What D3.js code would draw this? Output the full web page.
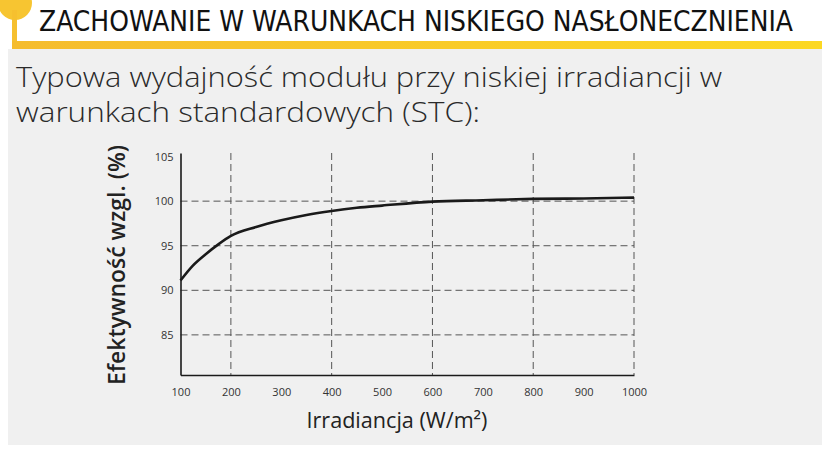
<!DOCTYPE html>
<html>
<head>
<meta charset="utf-8">
<script src="https://cdn.jsdelivr.net/npm/d3@7"></script>
<style>
  body { margin: 0; background: #fff; }
  svg { display: block; }
</style>
</head>
<body>
<div class="plot"></div>
<script>
// data
const irradiance = [100, 125, 150, 175, 200, 250, 300, 350, 400, 450, 500, 600, 700, 800, 900, 1000];
const efficiency = [91.1, 92.8, 94.05, 95.15, 96.1, 97.1, 97.85, 98.45, 98.9, 99.25, 99.5, 99.95, 100.1, 100.25, 100.3, 100.4];
const xTicks = [100, 200, 300, 400, 500, 600, 700, 800, 900, 1000];
const yTicks = [85, 90, 95, 100, 105];
const xGrid = [200, 400, 600, 800, 1000];
const yGrid = [85, 90, 95, 100];

const W = 828, H = 456;
const svg = d3.select(".plot")
    .append("svg")
        .attr("width", W)
        .attr("height", H);

// yellow gradient for header bar
const defs = svg.append("defs");
const grad = defs.append("linearGradient").attr("id", "yel");
grad.append("stop").attr("offset", "0%").attr("stop-color", "#f5bc2e");
grad.append("stop").attr("offset", "100%").attr("stop-color", "#fcd823");

// grey panel
svg.append("rect")
    .attr("x", 8).attr("y", 49)
    .attr("width", 814).attr("height", 396)
    .attr("fill", "#f0f0f0");

// header decoration
svg.append("circle")
    .attr("cx", 15).attr("cy", 3).attr("r", 17)
    .attr("fill", "#f7c531");
svg.append("rect")
    .attr("x", 12).attr("y", 10).attr("width", 5).attr("height", 36)
    .attr("fill", "#f6c02f");
svg.append("rect")
    .attr("x", 12).attr("y", 41).attr("width", 810).attr("height", 8)
    .attr("fill", "url(#yel)");

svg.append("text")
    .attr("x", 39).attr("y", 31)
    .attr("textLength", 754)
    .attr("lengthAdjust", "spacingAndGlyphs")
    .style("font-family", "'Liberation Sans Narrow', 'DejaVu Sans Condensed', 'DejaVu Sans', sans-serif")
    .style("font-size", "28px")
    .style("fill", "#111")
    .text("ZACHOWANIE W WARUNKACH NISKIEGO NASŁONECZNIENIA");

// subtitle
const sub = svg.append("g")
    .style("font-family", "'Open Sans', sans-serif")
    .style("font-weight", 300)
    .style("font-size", "27px")
    .style("fill", "#2a2a2a");
sub.append("text")
    .attr("x", 16).attr("y", 87)
    .attr("textLength", 706)
    .attr("lengthAdjust", "spacingAndGlyphs")
    .text("Typowa wydajność modułu przy niskiej irradiancji w");
sub.append("text")
    .attr("x", 16).attr("y", 122)
    .attr("textLength", 464)
    .attr("lengthAdjust", "spacingAndGlyphs")
    .text("warunkach standardowych (STC):");

// scales
const x = d3.scaleLinear().domain([100, 1000]).range([180.5, 634]);
const y = d3.scaleLinear().domain([80.5, 105.4]).range([375, 153]);

const g = svg.append("g");

// dashed grid
g.selectAll(".hgrid")
    .data(yGrid)
    .enter()
    .append("line")
        .attr("class", "hgrid")
        .attr("x1", x(100)).attr("x2", x(1000))
        .attr("y1", d => y(d)).attr("y2", d => y(d))
        .attr("stroke", "#555")
        .attr("stroke-width", 1)
        .attr("stroke-dasharray", "7,4");
g.selectAll(".vgrid")
    .data(xGrid)
    .enter()
    .append("line")
        .attr("class", "vgrid")
        .attr("x1", d => x(d)).attr("x2", d => x(d))
        .attr("y1", y(105.4)).attr("y2", y(80.5))
        .attr("stroke", "#555")
        .attr("stroke-width", 1)
        .attr("stroke-dasharray", "7,4");

// axes
const xAxis = d3.axisBottom(x).tickValues(xTicks).tickSize(0).tickPadding(13).tickFormat(d3.format("d"));
const yAxis = d3.axisLeft(y).tickValues(yTicks).tickSize(0).tickPadding(7).tickFormat(d3.format("d"));

const gx = g.append("g")
    .attr("transform", "translate(0," + y(80.5) + ")")
    .call(xAxis);
const gy = g.append("g")
    .attr("transform", "translate(" + x(100) + ",0)")
    .call(yAxis);

[gx, gy].forEach(a => {
    a.select(".domain").attr("stroke", "#1a1a1a").attr("stroke-width", 1.6);
    a.selectAll("text")
        .style("font-family", "'Open Sans', sans-serif")
        .style("font-size", "11px")
        .style("fill", "#333");
});

// curve
const line = d3.line()
    .x((d, i) => x(irradiance[i]))
    .y(d => y(d))
    .curve(d3.curveMonotoneX);
g.append("path")
    .datum(efficiency)
    .attr("d", line)
    .attr("fill", "none")
    .attr("stroke", "#1a1a1a")
    .attr("stroke-width", 2.6);

// axis titles
svg.append("text")
    .attr("x", 397).attr("y", 428)
    .attr("text-anchor", "middle")
    .attr("textLength", 181)
    .attr("lengthAdjust", "spacingAndGlyphs")
    .style("font-family", "'Open Sans', sans-serif")
    .style("font-size", "22px")
    .style("fill", "#222")
    .text("Irradiancja (W/m²)");

svg.append("text")
    .attr("transform", "translate(125,265) rotate(-90)")
    .attr("text-anchor", "middle")
    .attr("textLength", 240)
    .attr("lengthAdjust", "spacingAndGlyphs")
    .style("font-family", "'Open Sans', sans-serif")
    .style("font-size", "23px")
    .style("font-weight", 600)
    .style("fill", "#222")
    .text("Efektywność wzgl. (%)");
</script>
</body>
</html>
